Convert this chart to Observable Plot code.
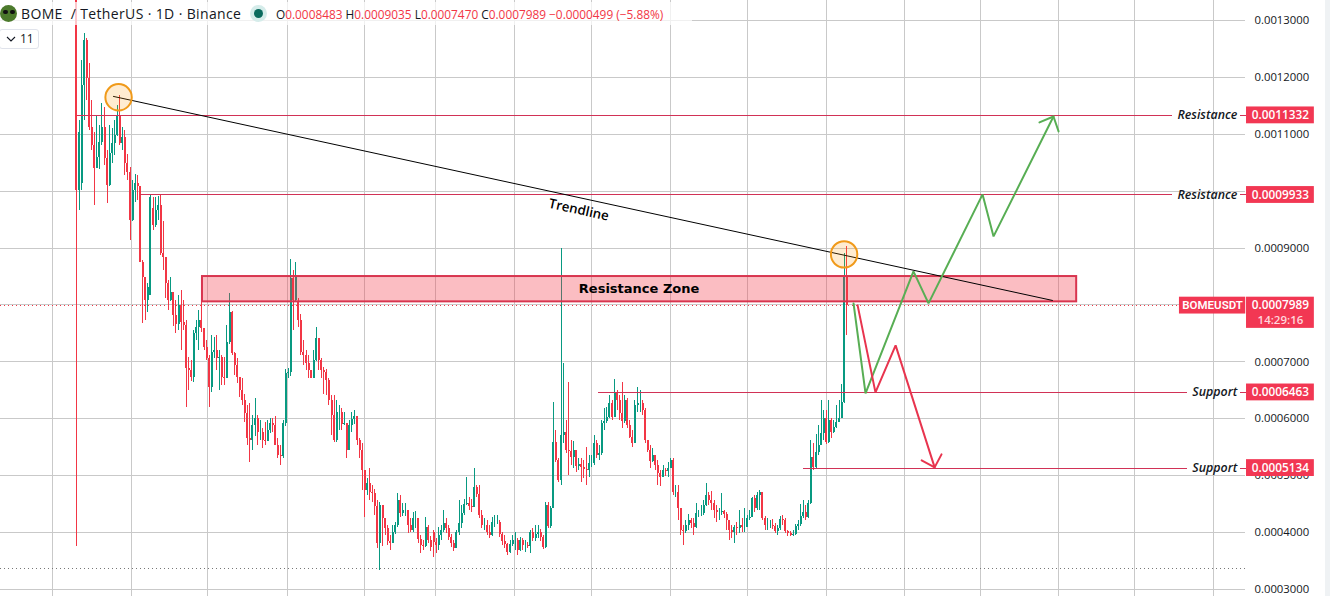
<!DOCTYPE html>
<html><head><meta charset="utf-8">
<script src="https://cdn.jsdelivr.net/npm/d3@7"></script>
<script src="https://cdn.jsdelivr.net/npm/@observablehq/plot@0.6"></script>
<style>
html,body{margin:0;padding:0;background:#fff;overflow:hidden}
#wrap{position:relative;width:1330px;height:596px;overflow:hidden;font-family:"Open Sans",sans-serif}
#wrap svg{display:block}
#band{position:absolute;left:1325px;top:0;width:5px;height:596px;background:#eff2f4}
#head{position:absolute;left:0;top:2px;height:23px;width:692px;background:rgba(255,255,255,.72);white-space:nowrap;color:#131722}
#head span{position:absolute;top:2px}
#logo{position:absolute;left:0;top:3px;width:17px;height:17px;border-radius:50%;background:#4c7a2c;overflow:hidden}
#logo i{position:absolute;top:5px;width:5px;height:4px;background:#111;border-radius:2px}
#sym{left:21px;font-size:14px;letter-spacing:.36px}
#halo{position:absolute;left:250px;top:3px;width:17px;height:17px;border-radius:50%;background:#d5ecea}
#dot{position:absolute;left:254px;top:7px;width:9px;height:9px;border-radius:50%;background:#0b6b5e}
#ohlc{left:276px;font-size:11.85px;top:4px!important;color:#f23645}
#ohlc b{font-weight:400;color:#131722}
#ind{position:absolute;left:-1px;top:29px;width:38px;height:18px;border:1px solid #e0e3eb;border-radius:3px;background:#fff;font-size:12px;color:#131722;line-height:18px}
#ind span{position:absolute;left:20px;top:0}
#ind svg{position:absolute;left:6px;top:6px}
</style></head>
<body><div id="wrap"></div>
<script>
// Prices are in units of 0.0000001 USDT
const closes = [
10010,11030,11860,12650,11980,11120,10800,10400,10600,10850,
11120,10580,10100,10660,10840,10980,11330,10840,10950,10490,
10330,9490,10010,10140,10080,8750,8480,8080,8310,9890,
9400,9660,9750,8900,8830,8380,8080,8220,7810,7660,
7990,7700,7640,6890,6850,6730,7500,7600,7730,7590,
7260,7060,6550,7170,7200,7060,7080,6730,6710,7340,
7870,7150,6940,6730,6500,6320,6090,5650,5620,5885,
6010,5760,5760,5620,5600,5800,5920,5885,5530,5360,
5340,5920,6790,6810,8470,8080,8480,7730,7170,7110,
6970,6850,6710,7030,7410,7030,6850,6820,6680,6320,
6060,5620,6110,6110,5900,5920,5445,5890,5990,6040,
5620,5445,5090,4740,4865,4700,4690,4460,3810,4480,
4250,4075,3845,3810,4000,4120,4566,4340,4390,4390,
4125,4040,4250,4250,3870,3780,3760,4090,3860,3740,
3830,3775,3950,4040,4160,4075,3910,3810,3720,4000,
4160,4340,4495,4510,4460,4440,4795,4670,4300,4125,
4125,4000,3950,4180,4180,4180,3970,3845,3790,3650,
3790,3860,3860,3690,3860,3775,3775,3755,4000,3900,
3970,4010,3910,3740,4480,4110,4420,5590,5270,4918,
5710,5760,5445,5430,5320,5445,5160,5200,5150,5110,
5090,5215,5215,5565,5360,5390,5920,5955,6025,6270,
6025,6445,6320,6090,5955,6320,5885,5675,5565,6235,
6270,6270,6150,5620,5445,5250,5360,5180,5040,4970,
5095,5075,5130,5270,4706,4706,4425,4040,4020,4125,
4215,4160,4090,4340,4340,4340,4480,4655,4566,4515,
4390,4355,4355,4370,4320,4215,4040,4000,4090,4075,
4125,4090,4090,4250,4265,4600,4425,4655,4705,4250,
4125,4125,4125,4110,4020,4075,4230,4215,4020,3985,
3950,3970,4110,4145,4285,4355,4265,4510,5320,5145,
5410,5530,5745,6010,5585,5970,5760,5850,5940,6010,
6290,8483,7989];
const highs = [
13900,11240,12300,12770,12680,12240,11590,11030,11330,11150,
11540,11470,10720,11150,11100,11240,11510,11680,11120,11070,
10650,10420,10190,10300,10280,10080,8780,8340,8380,9950,
9890,9890,9910,9930,9470,8730,8430,8480,8220,8080,
8170,8260,8080,7720,7080,7030,7550,7730,7900,8050,
7550,7380,7110,7460,7430,7470,7200,7110,7080,7640,
8200,7890,7170,7060,6710,6710,6430,6230,6270,6060,
6360,6050,5970,5830,5940,5970,6010,6010,6040,5650,
5530,5970,6860,6880,8800,8610,8750,8120,7830,7380,
7200,7110,6850,7200,7600,7410,7060,6900,6870,6710,
6410,6410,6320,6230,6180,6110,5920,5970,6110,6150,
5990,5650,5560,5090,4950,5130,4830,4760,4570,4530,
4360,4220,4130,3950,4130,4180,4690,4650,4510,4510,
4390,4250,4360,4370,4160,3950,3860,4270,4120,3930,
4040,3900,4090,4130,4390,4250,4125,3970,3860,4040,
4570,4480,4580,4970,4620,4580,5130,4830,4830,4390,
4250,4215,4125,4270,4300,4300,4215,4000,3950,3810,
3860,3950,4000,3900,3915,3900,3860,3825,4040,4075,
4125,4125,4050,3950,4530,4530,4460,6290,5790,5300,
8990,6970,5970,6640,5620,5600,5360,5300,5300,5270,
5500,5360,5360,5710,5620,5530,5970,6180,6200,6410,
6320,6690,6500,6410,6640,6410,6360,5970,5800,6320,
6550,6500,6320,6180,5620,5530,5480,5300,5270,5095,
5180,5130,5230,5300,5300,4830,4830,4425,4125,4215,
4320,4250,4250,4510,4390,4480,4566,4865,4700,4725,
4566,4480,4425,4690,4390,4355,4215,4125,4125,4180,
4390,4250,4425,4300,4390,4620,4655,4705,4740,4480,
4285,4250,4215,4230,4160,4125,4285,4300,4250,4040,
4020,4040,4145,4215,4500,4566,4480,4566,5620,5565,
5720,5885,6320,6150,6150,6320,6010,5970,6230,6320,
6600,8900,9035];
const lows = [
3760,9660,10010,11240,11590,11070,10720,9750,10400,10380,
10800,10450,9780,10080,10490,10630,10960,10800,10720,10280,
10190,9130,9470,9800,9840,8750,7680,7730,7870,8170,
9310,9360,9490,8870,8610,8120,7900,8060,7630,7500,
7550,7200,7550,6190,6500,6660,6640,7380,7200,7520,
7200,7030,6190,6460,7060,6850,6500,6590,6590,6730,
7300,7110,6760,6620,6380,6240,5930,5530,5230,5450,
5690,5530,5620,5480,5530,5600,5740,5760,5530,5310,
5180,5310,5870,6710,6750,7550,8050,7610,7110,6940,
6850,6710,6710,6710,7000,6850,6710,6430,6410,6240,
5710,5590,5590,5800,5800,5885,5310,5445,5760,5900,
5530,5310,4740,4270,4650,4570,4530,4300,3720,3340,
3760,3950,3780,3690,3810,3970,4090,4270,4290,4290,
3980,4000,4000,4070,3810,3640,3690,3740,3810,3670,
3570,3640,3690,3860,4000,3990,3860,3740,3670,3740,
3950,4075,4300,4480,4390,4355,4440,4620,4250,4075,
4040,3950,3900,3930,4090,4145,3915,3775,3720,3600,
3635,3755,3690,3600,3670,3690,3650,3720,3635,3845,
3845,3900,3845,3705,3720,4075,4075,4420,5230,4880,
4830,5565,5390,5000,5180,5130,5060,5095,4880,4950,
4830,4970,5145,5180,5310,5270,5360,5800,5920,6000,
5970,6200,6150,5970,5830,5920,5830,5650,5500,5590,
6110,6110,6060,5565,5410,5130,5230,5090,4830,4810,
4970,4990,4970,5130,4650,4620,4215,3950,3775,3985,
4040,4075,3950,4075,4270,4285,4300,4460,4480,4390,
4250,4180,4215,4300,4250,4040,3860,3900,3810,3950,
3985,4000,4000,4125,4215,4265,4355,4390,4390,4215,
4040,4040,4075,4060,3985,3950,4040,4125,3985,3930,
3930,3930,3950,4040,4110,4250,4215,4250,4495,5095,
5130,5360,5530,5620,5550,5565,5650,5740,5830,5940,
6010,6270,7470];
const firstOpen = 13600;
const gappedOpens = new Map([[2,10140],[29,8170],[30,9700],[87,8050],[140,4000],[302,8483]]);

const gridDays = [-9.4,21.6,51.4,82.7,113,140.8,171.8,202,233,263,294,324.7,354.5,385,415,446];
const priceTicks = [3000,4000,5000,6000,7000,8000,9000,10000,11000,12000,13000];
const levels = [
  {price:11332, from:0.4,  to:429.6, note:"Resistance", label:"0.0011332"},
  {price:9933,  from:25,   to:429.6, note:"Resistance", label:"0.0009933"},
  {price:6463,  from:204.7,to:435.7, note:"Support",    label:"0.0006463"},
  {price:5134,  from:285,  to:435.7, note:"Support",    label:"0.0005134"}
];
const lastPrice = 7989, lowPrice = 3372;
const zone = {x1:49.4, x2:392.2, y1:8055, y2:8500, midX:220.6, midY:8290};
const trendIdx = [14.5,382.7], trendPrice = [11665,8080];
const touchIdx = [16.5,301], touchPrice = [11650,8890];
const greenIdx = [304.7,309.4,328.2,334.1,355.3,359.6,383.1], greenPrice = [8028,6446,8590,8028,9943,9205,11313];
const greenHeadIdx = [377.6,383.1,385.1], greenHeadPrice = [11208,11313,11050];
const redIdx = [306.3,313.3,321.2,336.5], redPrice = [7993,6464,7290,5146];
const redHeadIdx = [331.4,336.5,339.2], redHeadPrice = [5269,5146,5375];

const UP="#089981", DOWN="#f23645", TAG="#f23753", LINE="#d13256";
const candles = closes.map((c,i)=>{
  const o = gappedOpens.has(i) ? gappedOpens.get(i) : (i===0 ? firstOpen : closes[i-1]);
  return {i,o,c,h:highs[i],l:lows[i],col:c>=o?UP:DOWN};
});
const pts=(xs,ys)=>xs.map((x,k)=>({x,y:ys[k]}));
const tagX1=458.8, tagX2=485.4, tagH=148;

const plot = Plot.plot({
  width:1330,height:596,marginLeft:0,marginRight:85,marginTop:0,marginBottom:0,
  style:{background:"#fff",fontFamily:'"Open Sans",sans-serif',fontSize:"11.3px",color:"#131722"},
  x:{type:"linear",domain:[-29.8,458.4],axis:null},
  y:{type:"linear",domain:[2877,13351],axis:null},
  color:{type:"identity"},
  marks:[
    Plot.ruleX(gridDays,{x:d=>d,stroke:"#c9c9c9",strokeWidth:1,shapeRendering:"crispEdges"}),
    Plot.ruleY(priceTicks,{y:d=>d,stroke:"#c9c9c9",strokeWidth:1,shapeRendering:"crispEdges"}),
    Plot.axisY(priceTicks,{anchor:"right",tickSize:0,tickPadding:9,label:null,tickFormat:d=>(d/1e7).toFixed(7),fill:"#131722"}),
    // price lines
    Plot.ruleY([lastPrice],{y:d=>d,x1:-29.8,x2:432.5,stroke:DOWN,strokeDasharray:"1,3",strokeWidth:1,shapeRendering:"crispEdges"}),
    Plot.ruleY([lowPrice],{y:d=>d,x1:-29.8,x2:458.4,stroke:"#777",strokeDasharray:"1,3",strokeWidth:1,shapeRendering:"crispEdges"}),
    // candles
    Plot.ruleX(candles,{x:"i",y1:"l",y2:"h",stroke:"col",strokeWidth:1,shapeRendering:"crispEdges"}),
    Plot.ruleX(candles,{x:"i",y1:"o",y2:"c",stroke:"col",strokeWidth:2,shapeRendering:"crispEdges"}),
    // zone
    Plot.rect([zone],{x1:"x1",x2:"x2",y1:"y1",y2:"y2",fill:DOWN,fillOpacity:.33,stroke:"#d8354f",strokeWidth:2}),
    Plot.text([zone],{x:"midX",y:"midY",text:()=>"Resistance Zone",fill:"#000",fontWeight:700,fontSize:13,fontFamily:"DejaVu Sans"}),
    // support and resistance
    Plot.ruleY(levels,{y:"price",x1:"from",x2:"to",stroke:LINE,strokeWidth:1,shapeRendering:"crispEdges"}),
    Plot.ruleY(levels,{y:"price",x1:456.5,x2:458.8,stroke:LINE,strokeWidth:1,shapeRendering:"crispEdges"}),
    Plot.text(levels,{x:455.2,y:"price",text:"note",textAnchor:"end",fontStyle:"italic",fontWeight:600,fontSize:12.4,fill:"#131722"}),
    Plot.rect(levels,{x1:tagX1,x2:tagX2,y1:d=>d.price-tagH,y2:d=>d.price+tagH,fill:TAG}),
    Plot.text(levels,{x:(tagX1+tagX2)/2,y:"price",text:"label",fill:"#fff",fontWeight:600,fontSize:11.8}),
    // current price tags
    Plot.rect([lastPrice],{x1:432.5,x2:458.5,y1:d=>d-148,y2:d=>d+148,fill:TAG}),
    Plot.text([lastPrice],{x:445.5,y:d=>d,text:()=>"BOMEUSDT",fill:"#fff",fontSize:11.5,fontWeight:600,fontFamily:"Liberation Sans Narrow, Roboto, sans-serif"}),
    Plot.rect([lastPrice],{x1:tagX1,x2:tagX2,y1:d=>d-400,y2:d=>d+148,fill:TAG}),
    Plot.text([lastPrice],{x:(tagX1+tagX2)/2,y:d=>d,text:()=>"0.0007989",fill:"#fff",fontWeight:600,fontSize:11.8}),
    Plot.text([lastPrice],{x:(tagX1+tagX2)/2,y:d=>d-265,text:()=>"14:29:16",fill:"#ffd6dc",fontSize:11.5,fontWeight:600}),
    // trendline
    Plot.line(pts(trendIdx,trendPrice),{x:"x",y:"y",stroke:"#000",strokeWidth:1}),
    Plot.text([{x:197,y:9670}],{x:"x",y:"y",text:()=>"Trendline",rotate:12.3,fill:"#000",fontSize:13.3,fontWeight:600}),
    Plot.dot(pts(touchIdx,touchPrice),{x:"x",y:"y",r:13.2,stroke:"#f09a1a",strokeWidth:2,fill:"#ff9800",fillOpacity:.18}),
    // scenarios
    Plot.line(pts(greenIdx,greenPrice),{x:"x",y:"y",stroke:"#58ae54",strokeWidth:2,strokeLinejoin:"miter"}),
    Plot.line(pts(greenHeadIdx,greenHeadPrice),{x:"x",y:"y",stroke:"#58ae54",strokeWidth:2,strokeLinejoin:"miter"}),
    Plot.line(pts(redIdx,redPrice),{x:"x",y:"y",stroke:"#e8344e",strokeWidth:2,strokeLinejoin:"miter"}),
    Plot.line(pts(redHeadIdx,redHeadPrice),{x:"x",y:"y",stroke:"#e8344e",strokeWidth:2,strokeLinejoin:"miter"})
  ]
});
const wrap=document.getElementById("wrap");
wrap.appendChild(plot);
const html=`<div id="band"></div>
<div id="head"><div id="logo"><i style="left:3px"></i><i style="left:10px"></i></div>
<span id="sym">BOME&nbsp;&nbsp;/&nbsp;TetherUS · 1D · Binance</span>
<div id="halo"></div><div id="dot"></div>
<span id="ohlc"><b>O</b>0.0008483 <b>H</b>0.0009035 <b>L</b>0.0007470 <b>C</b>0.0007989 &minus;0.0000499 (&minus;5.88%)</span></div>
<div id="ind"><svg width="10" height="6"><path d="M1 1l4 4 4-4" fill="none" stroke="#131722" stroke-width="1.1"/></svg><span>11</span></div>`;
wrap.insertAdjacentHTML("beforeend",html);
</script></body></html>
